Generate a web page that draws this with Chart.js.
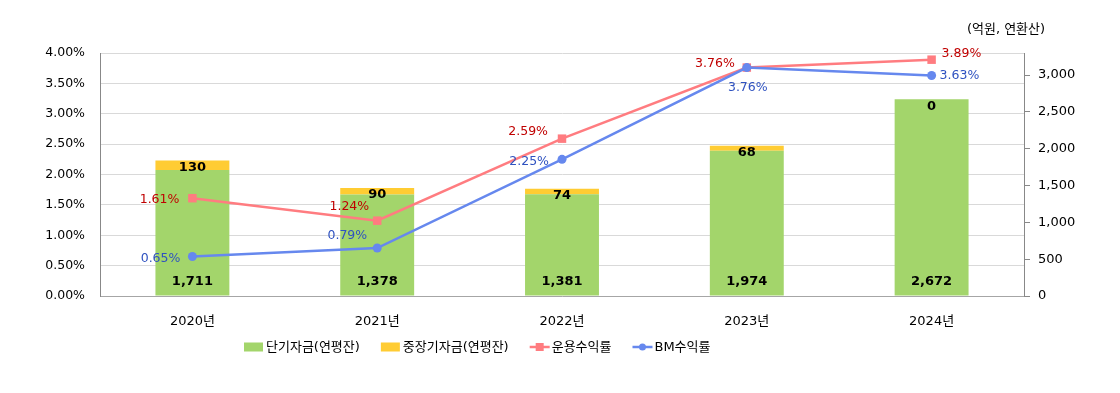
<!DOCTYPE html>
<html>
<head>
<meta charset="utf-8">
<script src="https://cdn.jsdelivr.net/npm/chart.js@4/dist/chart.umd.min.js"></script>
<style>
html,body{margin:0;padding:0;background:#fff;}
#wrap{width:1120px;height:393px;position:relative;}
</style>
</head>
<body>
<div id="wrap"><canvas id="c" width="1120" height="393"></canvas></div>
<script>
// ---- data ----
const categories = ['2020년', '2021년', '2022년', '2023년', '2024년'];
const shortTermFunds = [1711, 1378, 1381, 1974, 2672];   // 단기자금(연평잔)
const midLongFunds = [130, 90, 74, 68, 0];              // 중장기자금(연평잔)
const returnRate = [1.61, 1.24, 2.59, 3.76, 3.89];      // 운용수익률 (%)
const bmRate = [0.65, 0.79, 2.25, 3.76, 3.63];          // BM수익률 (%)
const rightTicks = [0, 500, 1000, 1500, 2000, 2500, 3000];
const seriesNames = ['단기자금(연평잔)', '중장기자금(연평잔)', '운용수익률', 'BM수익률'];
const unitLabel = '(억원, 연환산)';

// ---- label placement (style only) ----
// [alignment, dx, dy] relative to point
const returnLabelPos = [['right', -13, 2], ['right', -8, -14], ['right', -14, -7], ['right', -12, -4], ['left', 10, -6]];
const bmLabelPos = [['right', -12, 2], ['right', -10, -12], ['right', -13, 2], ['center', 1, 20], ['left', 8, 0]];

const FONT = '"DejaVu Sans", "Noto Sans CJK KR", sans-serif';
const GREEN = '#a3d56b', YELLOW = '#ffcc33', RED = '#ff7c80', BLUE = '#6688ee';
const RED_TXT = '#c00000', BLUE_TXT = '#2f52c0';

const labelPlugin = {
  id: 'labels',
  afterDatasetsDraw(chart) {
    const ctx = chart.ctx;
    ctx.save();
    ctx.textBaseline = 'middle';
    // bar labels
    const m0 = chart.getDatasetMeta(0), m1 = chart.getDatasetMeta(1);
    const yBottom = chart.scales.y1.getPixelForValue(0);
    ctx.font = 'bold 13px ' + FONT;
    ctx.fillStyle = '#000';
    ctx.textAlign = 'center';
    m0.data.forEach((el, i) => {
      ctx.fillText(shortTermFunds[i].toLocaleString('en-US'), el.x, yBottom - 14);
      const top = m1.data[i].y;
      ctx.fillText(midLongFunds[i].toLocaleString('en-US'), el.x, top + 7);
    });
    // line labels
    ctx.font = '12.5px ' + FONT;
    const drawLine = (idx, vals, pos, col) => {
      const meta = chart.getDatasetMeta(idx);
      ctx.fillStyle = col;
      meta.data.forEach((el, i) => {
        const p = pos[i];
        ctx.textAlign = p[0];
        ctx.fillText(vals[i].toFixed(2) + '%', el.x + p[1], el.y + p[2]);
      });
    };
    drawLine(2, returnRate, returnLabelPos, RED_TXT);
    drawLine(3, bmRate, bmLabelPos, BLUE_TXT);
    // unit label
    ctx.fillStyle = '#000';
    ctx.textAlign = 'center';
    ctx.font = '13px ' + FONT;
    ctx.fillText(unitLabel, 1006, 30);
    ctx.restore();
  },
  afterDraw(chart) {
    // legend
    const ctx = chart.ctx;
    ctx.save();
    ctx.font = '13px ' + FONT;
    ctx.textBaseline = 'middle';
    ctx.textAlign = 'left';
    let x = 244;
    const y = 347;
    const kinds = ['box', 'box', 'square', 'circle'];
    const colors = [GREEN, YELLOW, RED, BLUE];
    seriesNames.forEach((name, i) => {
      if (kinds[i] === 'box') {
        ctx.fillStyle = colors[i];
        ctx.fillRect(x, y - 4.5, 19, 9);
      } else {
        ctx.strokeStyle = colors[i];
        ctx.lineWidth = 2.5;
        ctx.beginPath(); ctx.moveTo(x, y); ctx.lineTo(x + 20, y); ctx.stroke();
        ctx.fillStyle = colors[i];
        if (kinds[i] === 'square') ctx.fillRect(x + 6, y - 4, 8, 8);
        else { ctx.beginPath(); ctx.arc(x + 10, y, 3.5, 0, Math.PI * 2); ctx.fill(); }
      }
      x += 22;
      ctx.fillStyle = '#000';
      ctx.fillText(name, x, y + 1);
      x += ctx.measureText(name).width + 21;
    });
    ctx.restore();
  }
};

new Chart(document.getElementById('c'), {
  data: {
    labels: categories,
    datasets: [
      { type: 'bar', label: seriesNames[0], data: shortTermFunds, backgroundColor: GREEN, yAxisID: 'y1', stack: 's', order: 3, barPercentage: 0.5, categoryPercentage: 0.8 },
      { type: 'bar', label: seriesNames[1], data: midLongFunds, backgroundColor: YELLOW, yAxisID: 'y1', stack: 's', order: 4, barPercentage: 0.5, categoryPercentage: 0.8 },
      { type: 'line', label: seriesNames[2], data: returnRate, borderColor: RED, backgroundColor: RED, borderWidth: 2.5, pointStyle: 'rect', pointRadius: 6, pointBorderWidth: 0, yAxisID: 'y', order: 1, tension: 0 },
      { type: 'line', label: seriesNames[3], data: bmRate, borderColor: BLUE, backgroundColor: BLUE, borderWidth: 2.5, pointStyle: 'circle', pointRadius: 4.5, pointBorderWidth: 0, yAxisID: 'y', order: 0, tension: 0 }
    ]
  },
  options: {
    responsive: false,
    animation: false,
    layout: { padding: { top: 53, left: 0, right: 0, bottom: 0 } },
    plugins: { legend: { display: false }, tooltip: { enabled: false }, title: { display: false } },
    scales: {
      x: {
        grid: { display: false, drawTicks: false },
        border: { color: '#a6a6a6', width: 1 },
        ticks: { color: '#000', font: { family: FONT, size: 13 }, padding: 18 },
        afterFit(s) { s.height = 97; }
      },
      y: {
        position: 'left', min: 0, max: 4,
        grid: { color: '#d9d9d9', drawTicks: false },
        border: { color: '#888', width: 1 },
        ticks: { stepSize: 0.5, color: '#000', font: { family: FONT, size: 12.5 }, padding: 15,
          callback: v => v.toFixed(2) + '%' },
        afterFit(s) { s.width = 100; }
      },
      y1: {
        position: 'right', min: 0, max: 3300,
        grid: { drawOnChartArea: false, color: '#888', tickLength: 6 },
        border: { color: '#888', width: 1 },
        ticks: { color: '#000', font: { family: FONT, size: 13 }, padding: 8,
          callback: v => v.toLocaleString('en-US') },
        afterBuildTicks(s) { s.ticks = rightTicks.map(v => ({ value: v })); },
        afterFit(s) { s.width = 96; }
      }
    }
  },
  plugins: [labelPlugin]
});
</script>
</body>
</html>
